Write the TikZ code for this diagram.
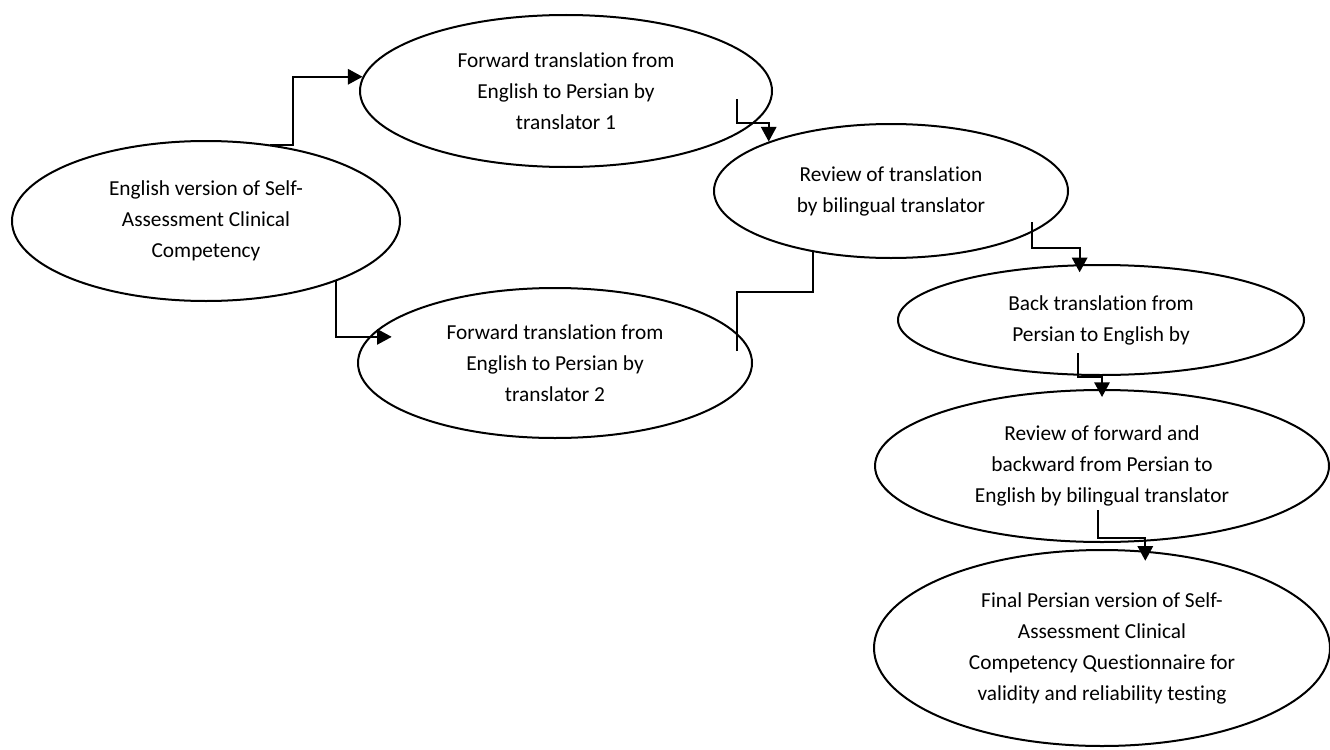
\documentclass[tikz,border=0pt]{standalone}
\usepackage{fontspec}
\setmainfont{Carlito}[RawFeature={-liga;-clig;-calt;-dlig}]
\usetikzlibrary{shapes.geometric,arrows.meta}
\begin{document}
\begin{tikzpicture}[x=0.75pt,y=-0.75pt,
  ell/.style={draw, line width=1.5pt, ellipse, inner sep=0pt, align=center,
    font=\fontsize{16pt}{23.25pt}\selectfont},
  conn/.style={line width=1.5pt},
  arr/.style={conn, -{Triangle[length=11pt,width=11.5pt]}}]
\useasboundingbox (0,0) rectangle (1330,749);
\node[ell, minimum width=291pt, minimum height=120pt] (e1) at (206,221)
  {English version of Self-\\Assessment Clinical\\Competency};
\node[ell, minimum width=309pt, minimum height=114pt] (e2) at (566,91)
  {Forward translation from\\English to Persian by\\translator 1};
\node[ell, minimum width=265.5pt, minimum height=100.5pt] (e3) at (891,191)
  {Review of translation\\by bilingual translator};
\node[ell, minimum width=295.5pt, minimum height=112.5pt] (e4) at (555,363)
  {Forward translation from\\English to Persian by\\translator 2};
\node[ell, minimum width=304.5pt, minimum height=82.5pt] (e5) at (1101,320)
  {Back translation from\\Persian to English by};
\node[ell, minimum width=340.5pt, minimum height=114pt] (e6) at (1102,466)
  {Review of forward and\\backward from Persian to\\English by bilingual translator};
\node[ell, minimum width=342pt, minimum height=147pt] (e7) at (1102,648)
  {Final Persian version of Self-\\Assessment Clinical\\Competency Questionnaire for\\validity and reliability testing};
% connectors
\coordinate (b1) at (293,0);
\draw[arr] (e1.50) -- (e1.50 -| b1) |- (e2.176);
\draw[arr, shorten >=-17pt] (e1.-25.5) |- (e4.172);
\coordinate (s3) at (737,99); \coordinate (k3) at (737,123);
\draw[arr] (s3) -- (k3) -| (e3.158);
\coordinate (s4) at (737,351); \coordinate (k4) at (737,292);
\draw[conn] (s4) -- (k4) -| (e3.218);
\coordinate (s5) at (1032,222); \coordinate (k5) at (1032,248);
\draw[arr, shorten >=-6pt] (s5) -- (k5) -| (e5.111.8);
\coordinate (s6) at (1078,353); \coordinate (k6) at (1078,377);
\draw[arr, shorten >=-6pt] (s6) -- (k6) -| (e6.north);
\coordinate (s7) at (1098,510); \coordinate (k7) at (1098,538);
\draw[arr, shorten >=-7.5pt] (s7) -- (k7) -| (e7.66.4);
\end{tikzpicture}
\end{document}
